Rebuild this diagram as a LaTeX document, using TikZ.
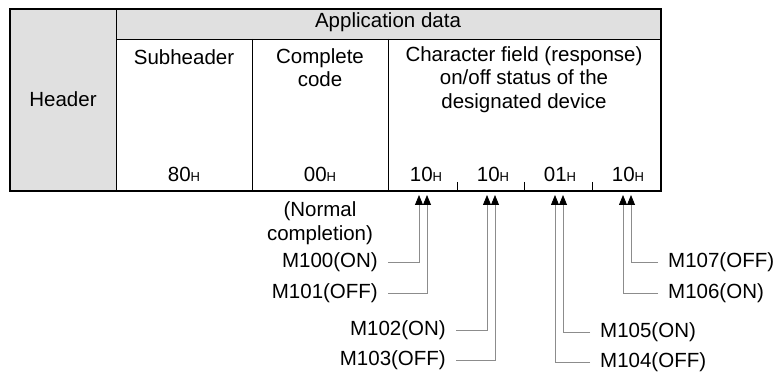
\documentclass[tikz,border=0pt]{standalone}
\usepackage{fontspec}
\setmainfont{Liberation Sans}
\usetikzlibrary{arrows.meta}
\definecolor{cellgray}{HTML}{E0E0E0}
\definecolor{linegray}{HTML}{8C8C8C}
\newcommand{\hexval}[1]{#1{\fontsize{13}{13}\selectfont H}}
\tikzset{
  cell/.style={font=\fontsize{20.5}{23.5}\selectfont, align=center, inner sep=0pt},
  devlabel/.style={font=\fontsize{20.5}{23.5}\selectfont, inner sep=0pt},
  frame/.style={draw=black, line width=2pt},
  thin/.style={draw=black, line width=0.8pt},
  conn/.style={draw=linegray, line width=0.8pt, shorten <=10pt,
               -{Triangle[length=10pt, width=8pt, color=black]}},
}
\begin{document}
\begin{tikzpicture}[x=1pt, y=-1pt]
\useasboundingbox (0,0) rectangle (779,374);

%% ====================  TABLE  ====================

\fill[cellgray] (10,9) rectangle (116,191);
\fill[cellgray] (116,9) rectangle (661,39);
\draw[thin] (116,9) -- (116,191);
\draw[thin] (116,39) -- (661,39);
\draw[thin] (252,39) -- (252,191);
\draw[thin] (388,39) -- (388,191);
\foreach \x in {457,524,592}
  \draw[thin] (\x,182) -- (\x,191);
\draw[frame] (10,9) rectangle (661,191);

\node[cell, anchor=base] (hdr) at (63,107) {Header};
\node[cell, anchor=base] (app) at (388,28) {Application data};
\node[cell, anchor=base] (sub) at (184,65) {Subheader};
\node[cell, anchor=north] (code) at (320,48) {Complete\\code};
\node[cell, anchor=north] (field) at (524,46)
  {Character field (response)\\on/off status of the\\designated device};

%% values
\node[cell, anchor=base] (v0) at (184,182) {\hexval{80}};
\node[cell, anchor=base] (v1) at (320,182) {\hexval{00}};
\node[cell, anchor=base] (v2) at (426,182) {\hexval{10}};
\node[cell, anchor=base] (v3) at (493,182) {\hexval{10}};
\node[cell, anchor=base] (v4) at (560,182) {\hexval{01}};
\node[cell, anchor=base] (v5) at (628,182) {\hexval{10}};

\node[cell] (normal) at (320,223) {(Normal\\completion)};

%% ====================  ARROW TIPS  ====================

\coordinate (t0) at (419,195);
\coordinate (t1) at (427,195);
\coordinate (t2) at (487,195);
\coordinate (t3) at (495,195);
\coordinate (t4) at (555,195);
\coordinate (t5) at (563,195);
\coordinate (t6) at (623,195);
\coordinate (t7) at (631,195);

%% ====================  DEVICE LABELS  ====================

\node[devlabel, anchor=east] (m100) at (378,262) {M100(ON)};
\node[devlabel, anchor=east] (m101) at (378,293) {M101(OFF)};
\node[devlabel, anchor=east] (m102) at (446,330) {M102(ON)};
\node[devlabel, anchor=east] (m103) at (446,360) {M103(OFF)};
\node[devlabel, anchor=west] (m104) at (600,362) {M104(OFF)};
\node[devlabel, anchor=west] (m105) at (600,332) {M105(ON)};
\node[devlabel, anchor=west] (m106) at (668,293) {M106(ON)};
\node[devlabel, anchor=west] (m107) at (668,262) {M107(OFF)};

\draw[conn] (m100.east) -| (t0);
\draw[conn] (m101.east) -| (t1);
\draw[conn] (m102.east) -| (t2);
\draw[conn] (m103.east) -| (t3);
\draw[conn] (m104.west) -| (t4);
\draw[conn] (m105.west) -| (t5);
\draw[conn] (m106.west) -| (t6);
\draw[conn] (m107.west) -| (t7);

\end{tikzpicture}
\end{document}
